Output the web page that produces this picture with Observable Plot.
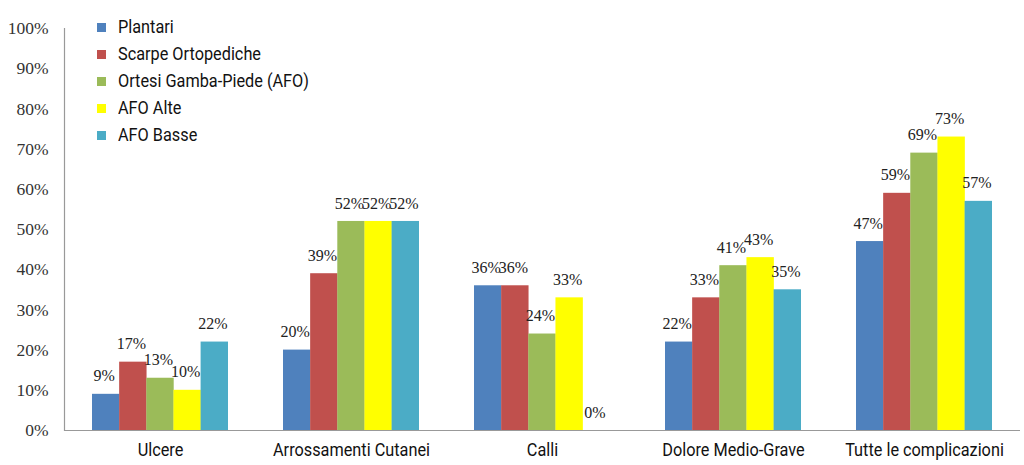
<!DOCTYPE html>
<html>
<head>
<meta charset="utf-8">
<script src="https://cdn.jsdelivr.net/npm/d3@7"></script>
<script src="https://cdn.jsdelivr.net/npm/@observablehq/plot@0.6"></script>
<style>
  html, body { margin: 0; padding: 0; background: #fff; }
  #wrap { position: relative; width: 1024px; height: 465px; }
  #legend { position: absolute; left: 97px; top: 14px; font-family: Roboto, 'DejaVu Sans', sans-serif; font-weight: 400; font-size: 18.5px; color: #111; }
  #legend div { height: 27px; line-height: 27px; display: flex; align-items: center; white-space: nowrap; }
  #legend span.sw { display: inline-block; width: 9px; height: 9px; margin-right: 12px; flex: none; }
  #legend span.tx { display: inline-block; transform: scaleX(0.88); transform-origin: left center; }
</style>
</head>
<body>
<div id="wrap"><div id="legend"></div></div>
<script>
const categories = ["Ulcere", "Arrossamenti Cutanei", "Calli", "Dolore Medio-Grave", "Tutte le complicazioni"];
const seriesNames = ["Plantari", "Scarpe Ortopediche", "Ortesi Gamba-Piede (AFO)", "AFO Alte", "AFO Basse"];
const plantari = [9, 20, 36, 22, 47];
const scarpeOrtopediche = [17, 39, 36, 33, 59];
const ortesiAFO = [13, 52, 24, 41, 69];
const afoAlte = [10, 52, 33, 43, 73];
const afoBasse = [22, 52, 0, 35, 57];
const yTicks = [0, 10, 20, 30, 40, 50, 60, 70, 80, 90, 100];
const colors = ["#4F81BD", "#C0504D", "#9BBB59", "#FFFF00", "#4BACC6"];

const seriesValues = [plantari, scarpeOrtopediche, ortesiAFO, afoAlte, afoBasse];
const rows = [];
seriesNames.forEach((s, i) => categories.forEach((c, j) => rows.push({category: c, series: s, value: seriesValues[i][j]})));

const width = 1024, height = 465;
const marginLeft = 64, marginRight = 4;
const padInner = 0.29, padOuter = 0.145;
const step = (width - marginLeft - marginRight) / (categories.length - padInner + 2 * padOuter);
const bar = step * (1 - padInner) / seriesNames.length;

const serif = "'Liberation Serif', 'Times New Roman', serif";
const cond = "Roboto, 'DejaVu Sans', sans-serif";

const marks = [];
seriesNames.forEach((s, i) => {
  const d = rows.filter(r => r.series === s);
  marks.push(Plot.barY(d, {x: "category", y: "value", fill: colors[i], insetLeft: i * bar, insetRight: (seriesNames.length - 1 - i) * bar}));
  marks.push(Plot.text(d, {x: "category", y: "value", text: r => r.value + "%", dx: (i - 2) * bar - 2, dy: -18, fontFamily: serif, fontSize: 16, fill: "#222"}));
});

const chart = Plot.plot({
  width, height,
  marginTop: 28, marginBottom: 35, marginLeft, marginRight,
  x: {domain: categories, paddingInner: padInner, paddingOuter: padOuter, label: null},
  y: {domain: [0, 100], label: null},
  marks: [
    ...marks,
    Plot.ruleY([0], {stroke: "#999", strokeWidth: 1.2}),
    Plot.frame({anchor: "left", stroke: "#999", strokeWidth: 1.2}),
    Plot.axisY({ticks: yTicks, tickFormat: d => d + "%", tickSize: 0, tickPadding: 16, fontFamily: serif, fontSize: 17.5, fill: "#333", label: null}),
    Plot.axisX({tickSize: 0, tickPadding: 12, fontFamily: cond, fontSize: 18.5, fontWeight: 400, fill: "#111", label: null})
  ]
});
chart.style.fontFamily = serif;
document.getElementById("wrap").prepend(chart);

// condense x-axis labels to mimic a condensed typeface
chart.querySelectorAll('g[aria-label="x-axis tick label"] text').forEach(t => {
  const w = t.getComputedTextLength();
  t.setAttribute("textLength", (w * 0.88).toFixed(1));
  t.setAttribute("lengthAdjust", "spacingAndGlyphs");
});

const legend = document.getElementById("legend");
seriesNames.forEach((s, i) => {
  const row = document.createElement("div");
  const sw = document.createElement("span");
  sw.className = "sw";
  sw.style.background = colors[i];
  const tx = document.createElement("span");
  tx.className = "tx";
  tx.textContent = s;
  row.appendChild(sw);
  row.appendChild(tx);
  legend.appendChild(row);
});
</script>
</body>
</html>
